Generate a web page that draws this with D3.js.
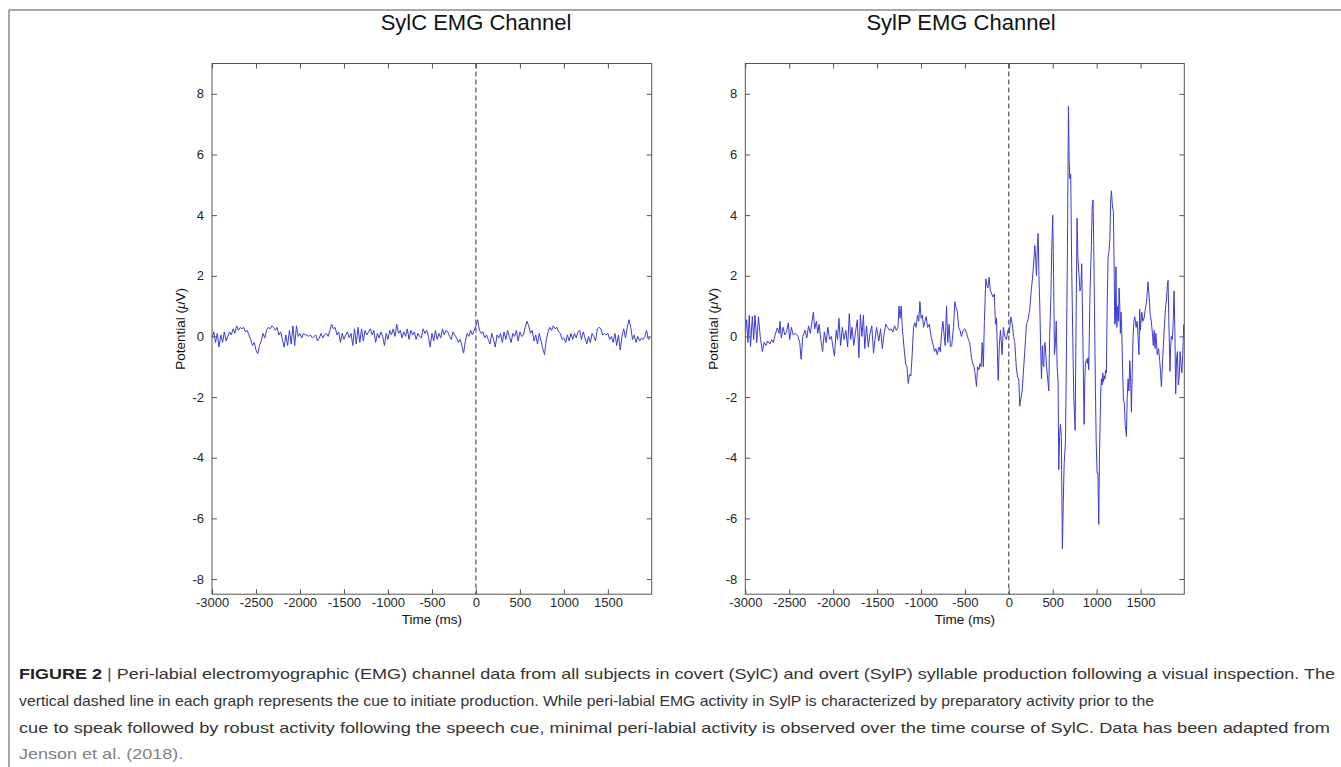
<!DOCTYPE html>
<html><head><meta charset="utf-8">
<script src="https://cdn.jsdelivr.net/npm/d3@7"></script>
<style>
html,body{margin:0;padding:0;background:#fff;}
svg{display:block;}
</style></head>
<body>
<svg id="fig" width="1341" height="767"></svg>
<script>
// ---------------- DATA ----------------
const panelTitles = ["SylC EMG Channel", "SylP EMG Channel"];
const xTickValues = [-3000, -2500, -2000, -1500, -1000, -500, 0, 500, 1000, 1500];
const yTickValues = [-8, -6, -4, -2, 0, 2, 4, 6, 8];
const xDomain = [-3000, 1998];
const yDomain = [-8.5, 9];
const cueTime = 0;

// SylC: sampled every 20 ms from -3000 ms
const sylcStart = -3000, sylcStep = 20;
const sylcValues = [
 -0.05,0.15,-0.2,0.1,-0.35,0.05,-0.2,0.15,-0.15,0.0,
 0.15,0.05,0.25,0.1,0.35,0.2,0.3,0.25,0.3,0.15,
 0.2,0.05,-0.1,-0.3,-0.2,-0.45,-0.57,-0.3,-0.15,0.1,
 -0.05,0.2,0.3,0.25,0.35,0.3,0.2,0.3,0.05,0.15,
 -0.1,-0.35,0.05,-0.3,0.2,-0.25,0.35,-0.3,0.35,0.0,
 0.1,-0.05,0.1,0.05,0.05,0.0,0.05,-0.05,0.0,0.05,
 -0.15,-0.05,0.1,-0.05,0.05,0.1,0.0,0.2,0.4,0.25,
 0.3,0.05,0.15,-0.2,0.1,-0.1,0.05,0.15,-0.05,0.1,
 -0.3,0.25,-0.25,0.3,-0.2,0.25,-0.15,0.2,0.05,0.15,
 0.25,0.05,0.2,-0.2,0.1,-0.05,0.15,0.0,-0.3,0.1,
 -0.1,0.2,0.05,0.25,0.0,0.4,0.1,0.2,-0.05,0.15,
 0.0,0.25,-0.1,0.2,0.05,0.15,-0.1,0.1,0.0,-0.05,
 0.25,0.1,0.2,0.0,-0.35,0.1,-0.15,0.2,-0.1,0.1,
 -0.05,0.25,0.05,0.2,0.15,0.0,-0.1,0.15,0.05,-0.05,
 -0.2,-0.1,-0.3,-0.55,-0.15,0.1,0.0,0.2,0.05,0.2,
 0.35,0.55,0.2,0.1,0.15,-0.05,0.05,-0.1,-0.25,0.1,
 -0.1,-0.35,0.05,-0.05,0.1,-0.2,0.15,-0.1,0.2,0.0,
 -0.2,0.1,0.0,0.2,-0.15,0.15,0.0,0.05,0.3,0.5,
 0.35,0.1,0.2,-0.15,0.05,-0.25,0.1,-0.15,-0.4,-0.6,
 -0.1,0.15,0.3,0.2,0.35,0.25,0.3,0.15,0.1,-0.1,
 -0.05,-0.2,0.05,-0.15,0.1,-0.1,0.1,-0.05,0.15,0.2,
 -0.1,0.15,-0.05,-0.25,0.0,-0.2,0.1,0.0,-0.15,0.25,
 0.3,0.25,0.05,0.1,0.05,0.1,-0.1,0.0,-0.2,0.1,
 -0.3,0.05,-0.45,0.0,0.25,-0.05,0.3,0.55,0.3,-0.1,
 0.05,-0.2,0.0,-0.15,-0.05,-0.1,0.0,0.2,-0.1,-0.05
];

// SylP: time (ms) / potential (µV) pairs
const sylpTimes = [
 -3000,-2985,-2970,-2955,-2940,-2920,-2905,-2890,-2870,-2850,-2830,-2806,-2785,-2765,-2745,-2720,-2700,-2680,-2660,-2636,
 -2615,-2605,-2590,-2570,-2550,-2530,-2510,-2495,-2475,-2455,-2430,-2400,-2380,-2365,-2345,-2320,-2300,-2280,-2260,-2240,
 -2225,-2210,-2190,-2175,-2160,-2140,-2120,-2100,-2080,-2060,-2040,-2020,-2000,-1985,-1965,-1950,-1934,-1915,-1895,-1875,
 -1855,-1835,-1816,-1800,-1785,-1765,-1745,-1725,-1707,-1690,-1672,-1655,-1640,-1620,-1600,-1580,-1560,-1540,-1524,-1505,
 -1480,-1460,-1440,-1420,-1400,-1380,-1360,-1340,-1320,-1300,-1280,-1262,-1250,-1238,-1225,-1213,-1195,-1175,-1160,-1145,
 -1130,-1115,-1100,-1085,-1070,-1055,-1040,-1025,-1012,-998,-985,-970,-955,-940,-925,-905,-885,-860,-845,-830,
 -815,-795,-780,-765,-750,-735,-725,-709,-695,-680,-665,-650,-630,-614,-600,-585,-570,-555,-540,-520,
 -500,-480,-460,-445,-425,-410,-395,-380,-368,-355,-340,-328,-315,-303,-290,-278,-262,-250,-238,-224,
 -210,-195,-178,-165,-152,-140,-121,-108,-95,-76,-62,-45,-27,-10,5,23,40,55,68,85,
 100,113,125,140,152,170,188,201,215,239,255,269,285,296,305,315,325,334,343,353,
 362,372,382,390,398,405,412,421,430,440,455,465,478,490,500,510,520,531,540,550,
 561,569,578,588,598,610,620,630,645,658,668,679,687,694,705,715,728,740,755,766,
 777,788,800,810,820,830,843,857,865,872,880,888,895,903,910,925,940,950,959,967,
 975,985,995,1005,1015,1024,1032,1040,1047,1054,1062,1070,1078,1087,1095,1103,1111,1120,1130,1140,
 1150,1160,1168,1180,1191,1200,1206,1213,1220,1225,1230,1240,1248,1255,1262,1270,1278,1285,1295,1305,
 1315,1325,1339,1348,1358,1368,1378,1388,1396,1405,1415,1425,1433,1442,1450,1460,1468,1482,1490,1498,
 1505,1515,1525,1540,1555,1570,1585,1598,1610,1622,1635,1645,1655,1665,1675,1690,1705,1718,1728,1737,
 1748,1760,1772,1786,1795,1805,1813,1822,1830,1835,1842,1850,1862,1872,1881,1890,1900,1910,1920,1930,
 1941,1950,1960,1970,1980,1991
];
const sylpValues = [
 0.1,0.55,-0.2,0.7,-0.33,0.66,-0.1,0.7,-0.2,0.65,0.0,-0.5,-0.2,-0.3,-0.15,-0.25,-0.1,-0.2,0.05,0.28,
 0.1,0.5,-0.05,0.3,0.05,0.15,0.45,-0.1,0.3,0.05,0.1,0.0,-0.2,-0.75,0.0,0.2,-0.05,0.35,0.1,0.5,
 0.8,0.25,0.5,0.1,0.4,-0.1,-0.5,0.15,-0.2,0.3,-0.1,0.0,-0.4,-0.65,0.2,-0.1,0.6,-0.3,0.3,-0.1,
 0.2,-0.35,0.75,-0.1,0.3,-0.3,0.15,0.55,-0.7,0.72,0.0,0.7,-0.4,0.35,-0.35,0.1,0.35,-0.55,-0.1,0.3,
 -0.15,0.25,-0.4,0.1,0.4,0.3,0.2,0.25,0.15,0.35,0.2,0.3,1.0,0.6,1.0,0.3,-0.3,-0.9,-1.0,-1.55,
 -1.25,-1.3,-0.6,0.3,0.45,0.3,0.7,0.5,1.15,0.6,0.7,0.3,0.5,0.65,0.3,0.4,0.0,-0.3,-0.5,-0.4,
 -0.6,-0.35,-0.5,0.1,0.5,0.0,-0.3,1.0,-0.2,0.4,-0.35,-0.3,0.3,1.15,0.95,0.8,0.3,0.2,0.0,0.2,
 0.25,0.1,-0.1,-0.2,-0.7,-0.9,-1.0,-1.3,-1.65,-1.0,-1.1,-0.9,-1.0,-0.2,-1.0,0.5,1.9,1.7,1.6,1.95,
 1.5,1.4,1.3,1.4,0.4,0.6,-1.45,-0.3,0.2,-0.6,0.3,0.0,-0.1,0.2,0.1,0.65,0.4,0.0,-0.2,-1.0,
 -1.35,-1.4,-2.3,-2.0,-1.8,-1.0,-0.2,0.4,0.5,0.9,1.5,1.9,2.5,3.0,2.6,2.0,3.0,3.4,2.0,1.0,
 -0.3,-1.4,-0.3,-0.9,-1.0,-0.3,-0.2,-0.6,-1.0,-1.3,-1.8,0.0,1.2,3.0,4.0,2.0,-0.6,-0.2,0.5,-1.0,
 -1.5,-4.4,-3.3,-2.9,-3.3,-7.0,-5.5,-4.2,-3.5,0.0,3.0,7.6,5.8,5.2,5.35,2.5,0.0,-2.0,-3.1,0.5,
 3.9,2.5,2.0,1.5,1.6,2.4,0.0,-2.9,-1.5,-0.9,-0.8,-0.75,-0.9,-0.7,-1.1,1.5,3.0,4.3,4.5,3.0,
 1.0,-1.5,-3.5,-4.5,-4.5,-6.2,-4.0,-2.8,-1.8,-1.4,-1.6,-1.2,-1.5,-1.3,-1.4,-1.1,-1.2,1.0,2.6,2.8,
 3.2,4.5,4.8,4.3,4.1,2.0,0.4,0.5,2.3,1.0,0.3,1.0,0.5,1.6,1.2,0.1,0.8,0.3,-1.0,-2.1,
 -2.2,-2.9,-3.3,-2.0,-1.4,-1.8,-0.8,-1.5,-2.5,-1.2,0.0,0.5,0.65,0.5,0.3,0.5,0.2,-0.6,0.9,0.2,
 0.5,0.8,0.5,0.6,0.9,1.2,1.8,1.3,0.7,0.5,0.1,-0.3,0.2,-0.4,0.1,-0.6,-0.4,-0.8,-1.2,-1.65,
 -1.0,-0.3,0.4,1.0,1.2,1.7,1.85,0.5,-0.5,-1.15,-0.4,0.0,-0.1,0.5,1.5,0.3,-1.9,-0.7,-0.5,-1.6,
 -1.3,-0.5,-0.9,-1.2,-0.6,0.4
];

const captionLines = [
 "Peri-labial electromyographic (EMG) channel data from all subjects in covert (SylC) and overt (SylP) syllable production following a visual inspection. The",
 "vertical dashed line in each graph represents the cue to initiate production. While peri-labial EMG activity in SylP is characterized by preparatory activity prior to the",
 "cue to speak followed by robust activity following the speech cue, minimal peri-labial activity is observed over the time course of SylC. Data has been adapted from",
 "Jenson et al. (2018)."
];
const captionLabel = "FIGURE 2";

// ---------------- DRAW ----------------
const svg = d3.select("#fig");
const axFont = "'Liberation Sans', Arial, Helvetica, sans-serif";
const capFont = "'Liberation Sans Narrow', 'Liberation Sans', Arial, sans-serif";
const fmt = d => String(d); // plain hyphen-minus like the original

// figure frame (top + left border)
svg.append("line").attr("x1",9).attr("x2",1341).attr("y1",10).attr("y2",10).attr("stroke","#8a8a8a").attr("stroke-width",1.5);
svg.append("line").attr("x1",9).attr("x2",9).attr("y1",10).attr("y2",767).attr("stroke","#8a8a8a").attr("stroke-width",1.5);

const sylcData = sylcValues.map((v,i)=>({t: sylcStart + i*sylcStep, v}));
const sylpData = sylpTimes.map((t,i)=>({t, v: sylpValues[i]}));

const panels = [
  {x0: 212, x1: 651.7, data: sylcData, title: panelTitles[0], titleX: 476},
  {x0: 745.3, x1: 1184.3, data: sylpData, title: panelTitles[1], titleX: 961}
];
const yTop = 63.5, yBot = 594.2;
const tickLen = 5;

panels.forEach(p => {
  const x = d3.scaleLinear().domain(xDomain).range([p.x0, p.x1]);
  const y = d3.scaleLinear().domain(yDomain).range([yBot, yTop]);
  const g = svg.append("g");

  const clipId = "clip" + Math.round(p.x0);
  svg.append("clipPath").attr("id", clipId).append("rect")
    .attr("x", p.x0).attr("y", yTop).attr("width", p.x1 - p.x0).attr("height", yBot - yTop);

  // dashed cue line
  g.append("line").attr("x1", x(cueTime)).attr("x2", x(cueTime)).attr("y1", yTop).attr("y2", yBot)
    .attr("stroke", "#333").attr("stroke-width", 1).attr("stroke-dasharray", "5,3");

  // signal
  g.append("path").datum(p.data)
    .attr("clip-path", `url(#${clipId})`)
    .attr("fill", "none").attr("stroke", "#3b3bd4").attr("stroke-width", 1)
    .attr("stroke-linejoin","round")
    .attr("d", d3.line().x(d => x(d.t)).y(d => y(d.v)));

  // axes (ticks inward)
  const styleAxis = sel => {
    sel.selectAll(".domain").remove();
    sel.selectAll(".tick line").attr("stroke", "#555");
    sel.selectAll(".tick text").attr("fill", "#262626").attr("font-family", axFont).attr("font-size", "13px");
  };
  g.append("g").attr("transform", `translate(0,${yBot})`)
    .call(d3.axisBottom(x).tickValues(xTickValues).tickSizeInner(-tickLen).tickSizeOuter(0).tickPadding(4).tickFormat(fmt))
    .call(styleAxis);
  g.append("g").attr("transform", `translate(0,${yTop})`)
    .call(d3.axisTop(x).tickValues(xTickValues).tickSizeInner(-tickLen).tickSizeOuter(0).tickFormat(""))
    .call(styleAxis);
  g.append("g").attr("transform", `translate(${p.x0},0)`)
    .call(d3.axisLeft(y).tickValues(yTickValues).tickSizeInner(-tickLen).tickSizeOuter(0).tickPadding(8).tickFormat(fmt))
    .call(styleAxis);
  g.append("g").attr("transform", `translate(${p.x1},0)`)
    .call(d3.axisRight(y).tickValues(yTickValues).tickSizeInner(-tickLen).tickSizeOuter(0).tickFormat(""))
    .call(styleAxis);

  // box
  g.append("rect").attr("x", p.x0).attr("y", yTop).attr("width", p.x1 - p.x0).attr("height", yBot - yTop)
    .attr("fill", "none").attr("stroke", "#555").attr("stroke-width", 1);

  // labels
  const cx = (p.x0 + p.x1) / 2;
  g.append("text").attr("x", p.titleX).attr("y", 30).attr("text-anchor", "middle")
    .attr("font-family", axFont).attr("font-size", "22px").attr("fill", "#111").text(p.title);
  g.append("text").attr("x", cx).attr("y", 624).attr("text-anchor", "middle")
    .attr("font-family", axFont).attr("font-size", "13.5px").attr("fill", "#111").text("Time (ms)");
  const yl = g.append("text").attr("transform", `translate(${p.x0 - 27},${(yTop + yBot)/2}) rotate(-90)`)
    .attr("text-anchor", "middle").attr("font-family", axFont).attr("font-size", "13.5px").attr("fill", "#111");
  yl.append("tspan").text("Potential (");
  yl.append("tspan").attr("font-style", "italic").text("\u03BC");
  yl.append("tspan").text("V)");
});

// caption
const capX = 19;
const capY = [679, 706, 733, 759];
const capRight = [1335, 1154, 1330, null];
const cap = svg.append("g").attr("font-family", capFont).attr("font-size", "15px").attr("fill", "#333");
const first = cap.append("text").attr("x", capX).attr("y", capY[0]);
first.append("tspan").attr("font-weight", "bold").attr("fill", "#222").text(captionLabel);
first.append("tspan").attr("fill", "#555").text(" | ");
first.append("tspan").text(captionLines[0]);
let scaleFactor = 1;
{
  const nat = first.node().getComputedTextLength();
  scaleFactor = (capRight[0] - capX) / nat;
  first.attr("textLength", capRight[0] - capX).attr("lengthAdjust", "spacingAndGlyphs");
}
for (let i = 1; i < 4; i++) {
  const t = cap.append("text").attr("x", capX).attr("y", capY[i]).text(captionLines[i]);
  if (i === 3) t.attr("fill", "#808080");
  const nat = t.node().getComputedTextLength();
  const target = capRight[i] ? capRight[i] - capX : nat * scaleFactor;
  t.attr("textLength", target).attr("lengthAdjust", "spacingAndGlyphs");
}
</script>
</body></html>
